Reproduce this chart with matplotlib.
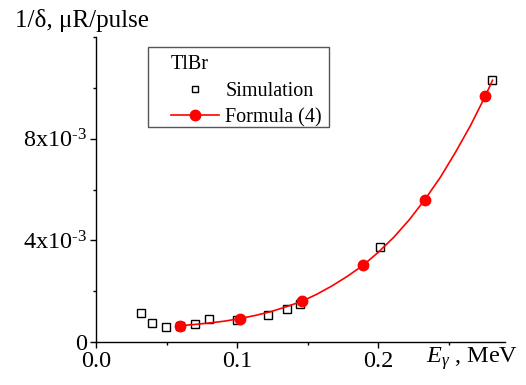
import matplotlib
matplotlib.use('Agg')
import matplotlib.pyplot as plt
from matplotlib.lines import Line2D
from matplotlib.patches import Rectangle
from matplotlib.ticker import MultipleLocator

plt.rcParams['font.family'] = ['Liberation Serif', 'DejaVu Serif']
plt.rcParams['mathtext.fontset'] = 'custom'
plt.rcParams['mathtext.rm'] = 'Liberation Serif'
plt.rcParams['mathtext.it'] = 'Liberation Serif:italic'

# simulation points (MeV, uR/pulse)
sim_x = [0.0317, 0.040, 0.0499, 0.0596, 0.070, 0.080, 0.0998, 0.1217, 0.1357,
         0.1447, 0.2014, 0.2809]
sim_y = [1.16e-3, 0.76e-3, 0.60e-3, 0.63e-3, 0.71e-3, 0.92e-3, 0.87e-3,
         1.05e-3, 1.31e-3, 1.51e-3, 3.72e-3, 10.3e-3]

# formula (4) points
form_x = [0.0596, 0.1017, 0.1458, 0.1893, 0.2330, 0.2759]
form_y = [0.64e-3, 0.92e-3, 1.60e-3, 3.02e-3, 5.60e-3, 9.68e-3]

# formula curve
curve_x = [0.0596, 0.070, 0.0806, 0.0910, 0.1017, 0.1125, 0.1236, 0.1345,
           0.1458, 0.1565, 0.167, 0.178, 0.1893, 0.200, 0.211, 0.222, 0.2330,
           0.2440, 0.2546, 0.2655, 0.2759, 0.2810]
curve_y = [0.64e-3, 0.69e-3, 0.75e-3, 0.82e-3, 0.92e-3, 1.04e-3, 1.19e-3,
           1.38e-3, 1.60e-3, 1.88e-3, 2.20e-3, 2.58e-3, 3.02e-3, 3.53e-3,
           4.12e-3, 4.81e-3, 5.60e-3, 6.48e-3, 7.45e-3, 8.53e-3, 9.68e-3,
           10.3e-3]

W, H = 526, 385
fig = plt.figure(figsize=(W / 100, H / 100), dpi=100)
ax = fig.add_axes([0.1825, 0.1117, 0.778, 0.792])

ax.plot(sim_x, sim_y, 's', ms=5.5, mfc='white', mec='black', mew=1.0,
        ls='none', zorder=2)
ax.plot(curve_x, curve_y, '-', color='red', lw=1.2, zorder=3)
ax.plot(form_x, form_y, 'o', color='red', ms=7.5, ls='none', zorder=4)

ax.set_xlim(0, 0.29)
ax.set_ylim(0, 0.012)
ax.xaxis.set_minor_locator(MultipleLocator(0.05))
ax.yaxis.set_minor_locator(MultipleLocator(0.002))
ax.set_xticks([0.0, 0.1, 0.2])
ax.set_xticklabels(['0.0', '0.1', '0.2'])
ax.set_yticks([0, 0.004, 0.008])
ax.set_yticklabels(['0', '$\\mathregular{4x10^{\u20103}}$',
                    '$\\mathregular{8x10^{\u20103}}$'])

for s in ['top', 'right']:
    ax.spines[s].set_visible(False)
for s in ['left', 'bottom']:
    ax.spines[s].set_linewidth(1.0)
ax.tick_params(which='major', direction='out', length=4.5, width=1.0,
               labelsize=17.5, pad=2)
ax.tick_params(which='minor', direction='out', length=2.5, width=1.0)

# legend box drawn separately
fig.patches.append(Rectangle((148 / W, 1 - 127 / H), 181 / W, 80 / H,
                             transform=fig.transFigure, fill=False,
                             edgecolor='#555555', lw=1.0))
handles = [Line2D([], [], marker='s', ms=5, mfc='white', mec='black',
                  mew=1.0, ls='none'),
           Line2D([], [], marker='o', ms=7.5, color='red', lw=1.2)]
leg = ax.legend(handles, ['Simulation', 'Formula (4)'], title='TlBr',
                loc='upper left', bbox_to_anchor=(171 / W, 1 - 55 / H),
                bbox_transform=fig.transFigure, fontsize=14.5,
                title_fontsize=14.5, alignment='left', frameon=False,
                handlelength=2.4, handletextpad=0.3, borderpad=0,
                borderaxespad=0, labelspacing=0.33)
leg._legend_box.sep = 6

fig.text(15 / W, 0.948, '1/\u03b4, \u03bcR/pulse', fontsize=18, va='center',
         ha='left')
fig.text(0.985, 0.068, r'$\mathit{E}_{\gamma}$ , MeV', fontsize=17.5,
         ha='right', va='center')

fig.savefig('out.png', dpi=100)
